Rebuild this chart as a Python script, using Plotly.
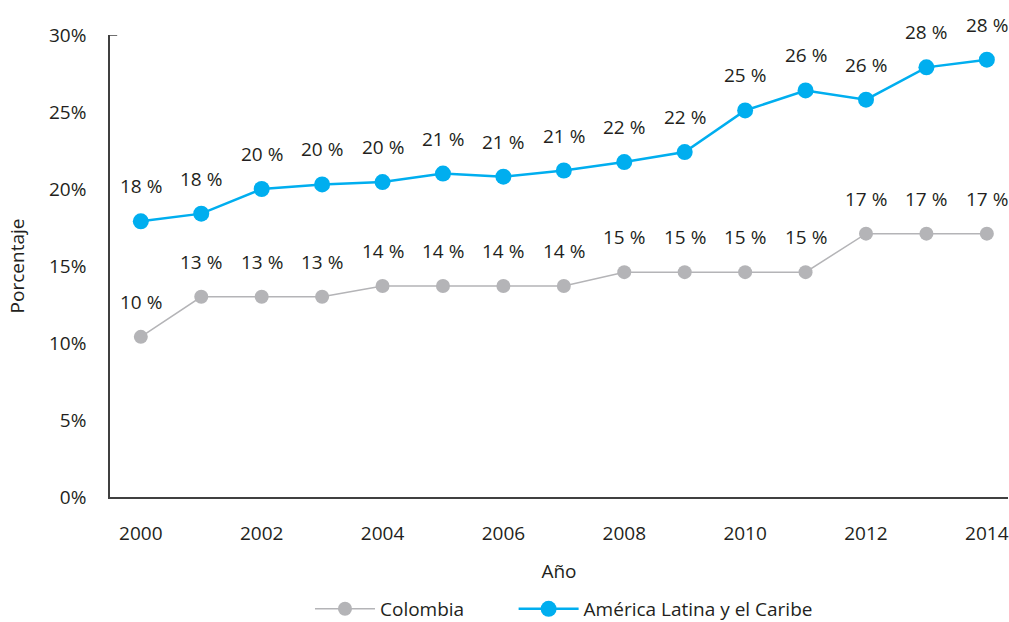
import plotly.graph_objects as go

years = list(range(2000, 2015))
colombia = [10.4, 13.0, 13.0, 13.0, 13.7, 13.7, 13.7, 13.7, 14.6, 14.6, 14.6, 14.6, 17.1, 17.1, 17.1]
america_latina = [17.9, 18.4, 20.0, 20.3, 20.45, 21.0, 20.8, 21.2, 21.75, 22.4, 25.1, 26.4, 25.8, 27.9, 28.4]
y_ticks = [0, 5, 10, 15, 20, 25, 30]
y_tick_labels = ["0%", "5%", "10%", "15%", "20%", "25%", "30%"]
x_ticks = [2000, 2002, 2004, 2006, 2008, 2010, 2012, 2014]
series_names = ["Colombia", "América Latina y el Caribe"]

FONT = "Open Sans"
FS = 19
TXT = "#231f20"
GRAY = "#b4b4b7"
BLUE = "#00aeef"
PAD = "\u00a0" * 9

fig = go.Figure()
fig.add_trace(go.Scatter(
    x=years, y=colombia, name=series_names[0] + PAD, mode="lines+markers",
    line=dict(color=GRAY, width=1.5), marker=dict(color=GRAY, size=14),
))
fig.add_trace(go.Scatter(
    x=years, y=america_latina, name=series_names[1], mode="lines+markers",
    line=dict(color=BLUE, width=2.5), marker=dict(color=BLUE, size=16),
))

annotations = []
for series in (colombia, america_latina):
    for x, v in zip(years, series):
        annotations.append(dict(
            x=x, y=v, xref="x", yref="y", text=f"{round(v)} %", showarrow=False,
            yanchor="middle", xanchor="center", yshift=35,
            font=dict(family=FONT, size=FS, color=TXT),
        ))

fig.update_layout(
    width=1009, height=622,
    margin=dict(l=110, r=1, t=35, b=125, autoexpand=False),
    paper_bgcolor="white", plot_bgcolor="white",
    font=dict(family=FONT, size=FS, color=TXT),
    annotations=annotations,
    showlegend=True,
    legend=dict(orientation="h", x=0.2227, xanchor="left",
                yref="container", y=0.021, yanchor="middle", itemwidth=60,
                font=dict(family=FONT, size=FS, color=TXT), tracegroupgap=0),
    xaxis=dict(
        range=[1999.49, 2014.35], tickvals=x_ticks, showgrid=False, zeroline=False,
        showline=True, linecolor="#404040", linewidth=1.5, ticks="",
        ticklabelstandoff=18, automargin=False,
        title=dict(text="Año", font=dict(family=FONT, size=FS, color=TXT), standoff=20),
    ),
    yaxis=dict(
        range=[0, 30], tickvals=y_ticks, ticktext=y_tick_labels, showgrid=False,
        zeroline=False, showline=True, linecolor="#404040", linewidth=1.5, ticks="",
        ticklabelstandoff=18, automargin=False,
        title=dict(text="Porcentaje", font=dict(family=FONT, size=FS, color=TXT), standoff=19),
    ),
    shapes=[dict(type="line", xref="paper", yref="y", x0=0, x1=0.008, y0=30, y1=30,
                 line=dict(color="#404040", width=1.5))],
)

# remove the page's default 8px body margin so the 1009x622 figure fills the window
fig.write_html("out.html", config={"displayModeBar": False},
               post_script="document.body.style.margin='0';")
